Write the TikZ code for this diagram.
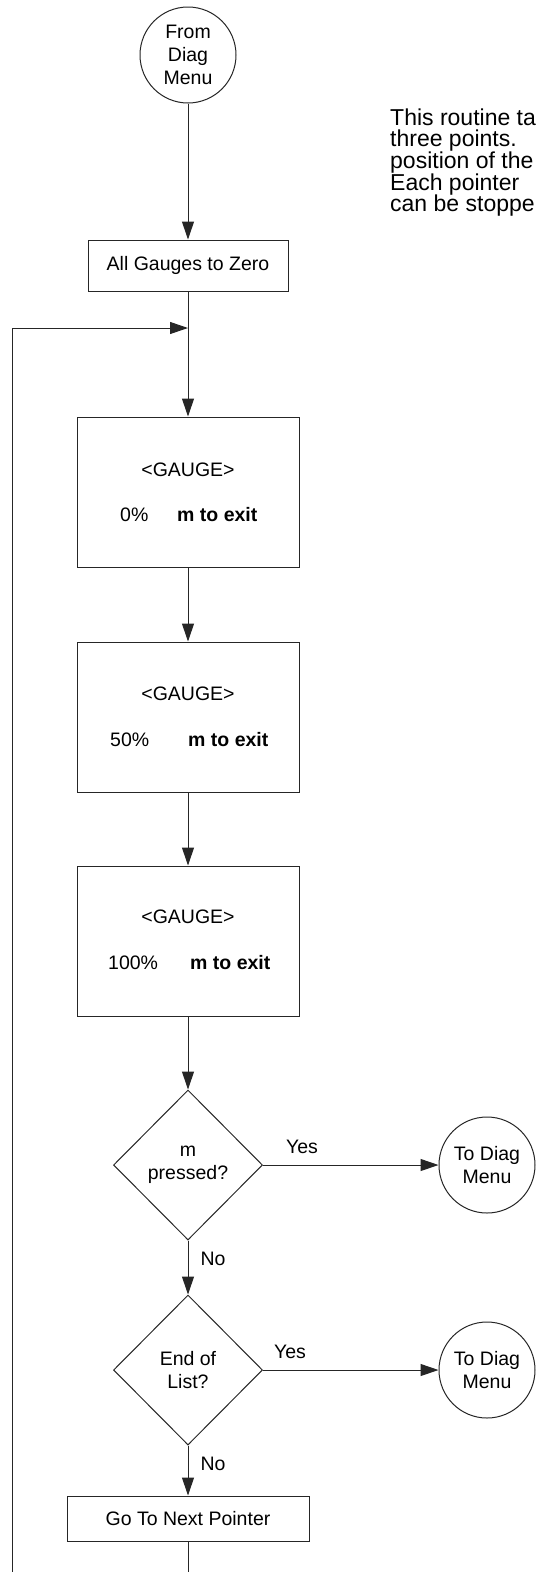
\documentclass[tikz,border=0pt]{standalone}
\usepackage{fontspec}
\setmainfont{Liberation Sans}
\usetikzlibrary{shapes.geometric,arrows.meta}
\begin{document}
\begin{tikzpicture}[x=1pt,y=-1pt,
  every node/.style={font=\fontsize{19.5}{23}\selectfont, inner sep=0pt},
  ln/.style={draw=black!85, line width=1pt},
  stepbox/.style={ln, rectangle, align=center},
  term/.style={ln, circle, minimum size=96pt, align=center},
  decide/.style={ln, diamond, minimum width=149pt, minimum height=150pt, aspect=1, align=center},
  arr/.style={ln, -{Triangle[length=18pt,width=12pt]}},
  para/.style={anchor=base west, font=\fontsize{23}{23}\selectfont},
  lbl/.style={}
]
\useasboundingbox (0,0) rectangle (536,1572);
\clip (0,0) rectangle (536,1572);

% nodes
\node[term] (from) at (188,55) {From\\Diag\\Menu};
\node[stepbox, minimum width=200pt, minimum height=51pt] (ag) at (188,265.5) {All Gauges to Zero};
\coordinate (j) at (188,328);

\node[stepbox, minimum width=222pt, minimum height=150pt] (g1) at (188,492) {};
\node[stepbox, minimum width=222pt, minimum height=150pt] (g2) at (188,717) {};
\node[stepbox, minimum width=222pt, minimum height=150pt] (g3) at (188,941) {};

\node (g1a) at (188,470) {<GAUGE>};
\node[anchor=west] (g1b) at (120,515) {0\%};
\node[anchor=west] (g1c) at (177,515) {\bfseries m to exit};
\node (g2a) at (188,694) {<GAUGE>};
\node[anchor=west] (g2b) at (110,740) {50\%};
\node[anchor=west] (g2c) at (188,740) {\bfseries m to exit};
\node (g3a) at (188,917) {<GAUGE>};
\node[anchor=west] (g3b) at (108,963) {100\%};
\node[anchor=west] (g3c) at (190,963) {\bfseries m to exit};

\node[decide] (d1) at (188,1165) {m\\pressed?};
\node[decide] (d2) at (188,1370) {End of\\List?};
\node[term] (c1) at (487,1165) {To Diag\\Menu};
\node[term] (c2) at (487,1370) {To Diag\\Menu};

\node[stepbox, minimum width=242pt, minimum height=45pt] (gn) at (188,1518.5) {Go To Next Pointer};

\coordinate (bot) at (188,1600);
\coordinate (botl) at (12,1600);
\coordinate (loopc) at (12,328);

% paragraph (cut off at the right edge, as in the reference)
\node[para] (p1) at (390,125) {This routine ta};
\node[para] (p2) at (390,146.7) {three points.};
\node[para] (p3) at (390,168.4) {position of the};
\node[para] (p4) at (390,190) {Each pointer};
\node[para] (p5) at (390,211.7) {can be stoppe};

% connectors
\draw[arr] (from) -- (ag);
\draw[ln] (ag) -- (j);
\draw[arr] (j) -- (g1);
\draw[arr] (g1) -- (g2);
\draw[arr] (g2) -- (g3);
\draw[arr] (g3) -- (d1.north);
\draw[arr] (d1.east) -- (c1.west);
\draw[arr] (d1.south) -- (d2.north);
\draw[arr] (d2.east) -- (c2.west);
\draw[arr] (d2.south) -- (gn);
\draw[ln] (gn) -- (bot) -- (botl) -- (loopc);
\draw[arr] (loopc) -- (j);

% labels
\node[lbl] (y1) at (302,1147) {Yes};
\node[lbl] (n1) at (213,1259) {No};
\node[lbl] (y2) at (290,1352) {Yes};
\node[lbl] (n2) at (213,1464) {No};
\end{tikzpicture}
\end{document}
